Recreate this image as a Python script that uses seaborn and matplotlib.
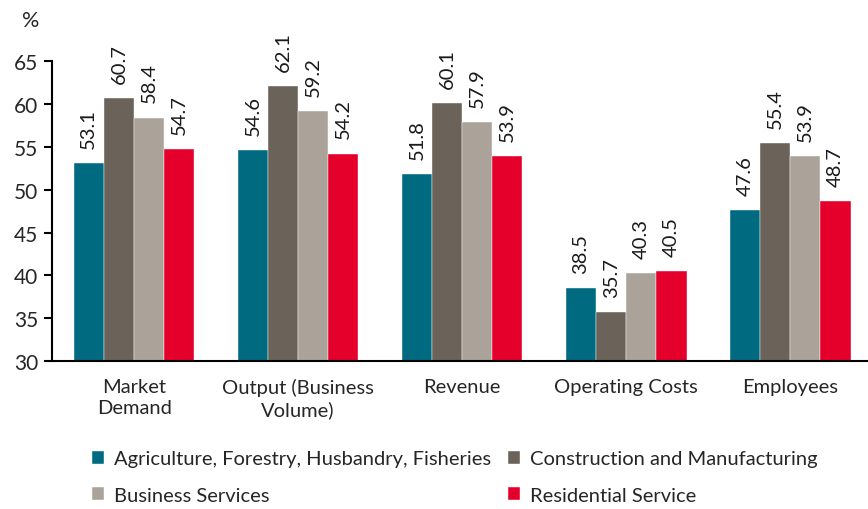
import matplotlib.pyplot as plt
import pandas as pd
import seaborn as sns

categories = ["Market\nDemand", "Output (Business\nVolume)", "Revenue", "Operating Costs", "Employees"]
sectors = [
    "Agriculture, Forestry, Husbandry, Fisheries",
    "Construction and Manufacturing",
    "Business Services",
    "Residential Service",
]
agriculture = [53.1, 54.6, 51.8, 38.5, 47.6]
construction = [60.7, 62.1, 60.1, 35.7, 55.4]
business = [58.4, 59.2, 57.9, 40.3, 53.9]
residential = [54.7, 54.2, 53.9, 40.5, 48.7]
colors = ["#006A80", "#6B6259", "#ABA39A", "#E4002B"]


def build_frame():
    rows = []
    for sector, values in zip(sectors, [agriculture, construction, business, residential]):
        for cat, v in zip(categories, values):
            rows.append({"category": cat, "sector": sector, "value": v})
    return pd.DataFrame(rows)


def main():
    sns.set_style("white")
    plt.rcParams["font.family"] = ["Lato", "DejaVu Sans"]

    df = build_frame()
    fig = plt.figure(figsize=(8.68, 5.10), dpi=100)
    ax = fig.add_axes([0.06, 0.29, 0.945, 0.588])

    sns.barplot(
        data=df, x="category", y="value", hue="sector",
        palette=colors, saturation=1, width=0.735, gap=0, ax=ax,
        edgecolor="white", linewidth=0.3, legend=True,
    )

    for cont in ax.containers:
        ax.bar_label(cont, fmt="%.1f", rotation=90, padding=11, fontsize=14.5, color="#1a1a1a")

    ax.set_ylim(30, 65)
    ax.set_yticks(range(30, 66, 5))
    ax.set_xlim(-0.5, 4.5)
    ax.set_xlabel("")
    ax.set_ylabel("")
    ax.tick_params(axis="y", labelsize=15, length=6, width=1.5, direction="out", color="black", left=True, pad=4)
    ax.tick_params(axis="x", labelsize=14.5, length=0, pad=12)
    for lbl in ax.get_xticklabels():
        lbl.set_linespacing(1.3)
    sns.despine(ax=ax, top=True, right=True)
    for s in ["left", "bottom"]:
        ax.spines[s].set_color("black")
        ax.spines[s].set_linewidth(1.5)

    fig.text(0.025, 0.958, "%", fontsize=15.5, ha="left", va="center")

    handles, labels = ax.get_legend_handles_labels()
    ax.legend_.remove()
    order = [0, 2, 1, 3]
    fig.legend(
        [handles[i] for i in order], [labels[i] for i in order],
        ncol=2, loc="lower left", bbox_to_anchor=(0.085, -0.025),
        frameon=False, fontsize=14.5, handlelength=0.6, handleheight=0.6,
        handletextpad=0.5, columnspacing=0.85, labelspacing=0.95,
    )

    fig.savefig("out.png", dpi=100)


if __name__ == "__main__":
    main()
